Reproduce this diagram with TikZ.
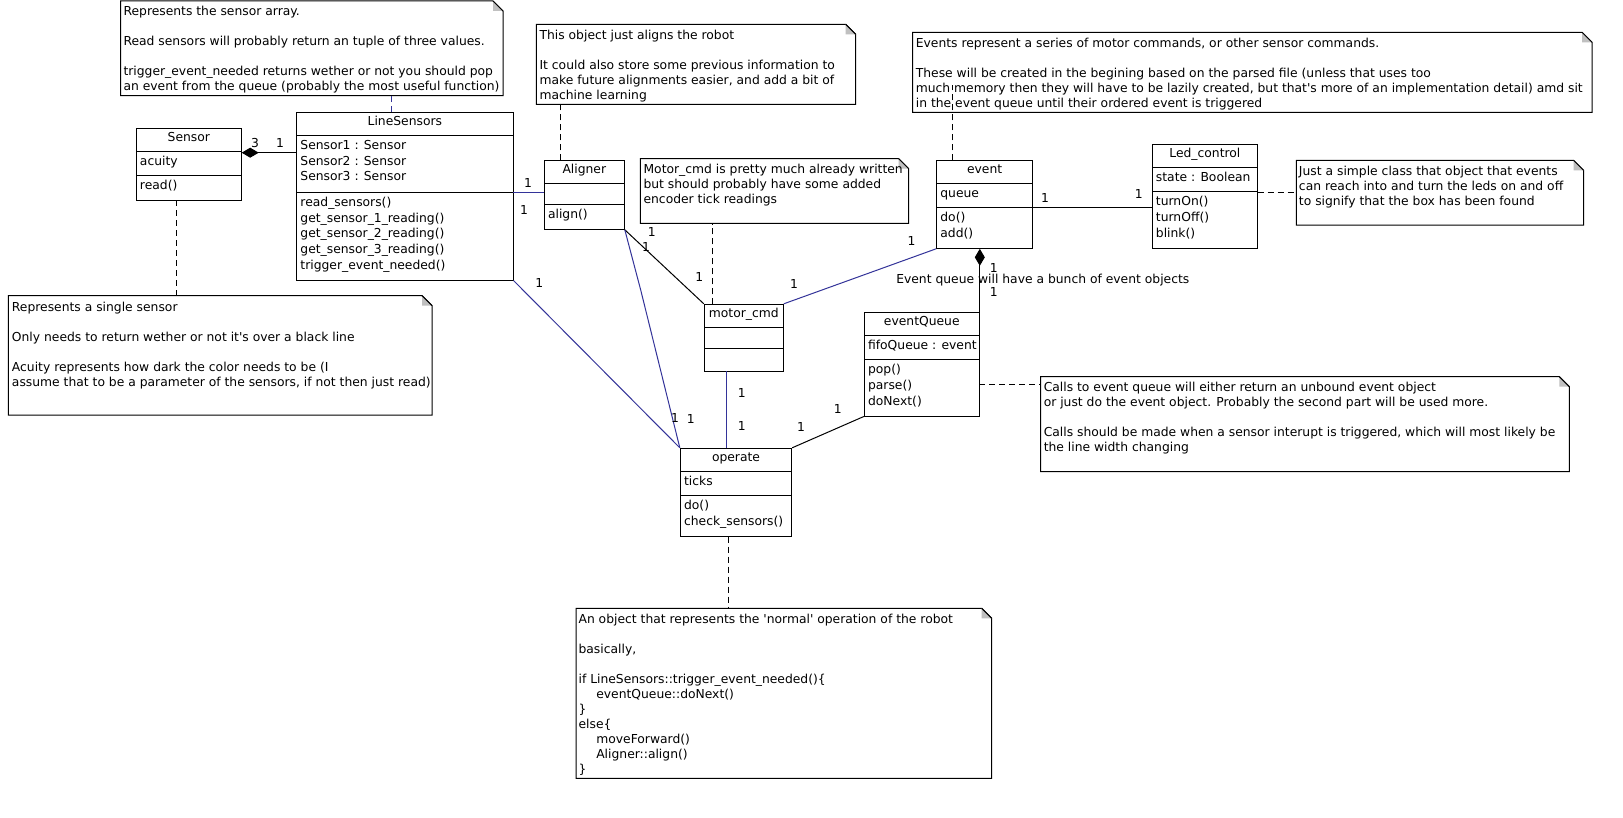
\documentclass[tikz,border=0pt]{standalone}
\usepackage{fontspec}
\newfontfamily\dv{DejaVu Sans}
\usetikzlibrary{fit,arrows.meta}
\newcommand\apos{\XeTeXglyph\the\XeTeXcharglyph"0027\relax}
\definecolor{assocblue}{RGB}{51,51,153}
\definecolor{foldgray}{RGB}{192,192,192}

\tikzset{
  ln/.style={line width=0.75pt},
  assoc/.style={ln, draw=assocblue},
  dep/.style={ln, dash pattern=on 4.5pt off 3pt},
  frame/.style={draw, line width=0.75pt, inner sep=0pt},
  clstxt/.style={anchor=north west, inner sep=0pt, align=left, font=\dv\fontsize{9.25pt}{11.85pt}\selectfont},
  notetxt/.style={anchor=north west, inner sep=0pt, align=left, font=\dv\fontsize{9.25pt}{11.25pt}\selectfont},
  ttl/.style={anchor=base, inner sep=0pt, font=\dv\fontsize{9.25pt}{11.25pt}\selectfont},
  mult/.style={inner sep=0pt, font=\dv\fontsize{9.25pt}{11.25pt}\selectfont},
  compo/.style={ln, {Diamond[length=12.75pt,width=7.5pt]}-},
}

% class box: name, x1, y1, x2, y2, first divider, second divider, title
\newcommand\umlclass[8]{%
  \coordinate (#1-nw) at (#2,#3);
  \coordinate (#1-se) at (#4,#5);
  \node[frame, fill=white, fit=(#1-nw)(#1-se)] (#1) {};
  \draw[ln] (#2,#6) -- (#4,#6);
  \draw[ln] (#2,#7) -- (#4,#7);
  \node[ttl] (#1-title) at ({(#2+#4)/2},{#3+13}) {#8};
}
% note with folded corner: name, x1, y1, x2, y2
\newcommand\umlnote[5]{%
  \coordinate (#1-nw) at (#2,#3);
  \coordinate (#1-se) at (#4,#5);
  \node[inner sep=0pt, fit=(#1-nw)(#1-se)] (#1) {};
  \filldraw[ln, fill=white] (#2,#3) -- ({#4-10},#3) -- (#4,{#3+10}) -- (#4,#5) -- (#2,#5) -- cycle;
  \fill[foldgray] ({#4-10},#3) -- ({#4-10},{#3+10}) -- (#4,{#3+10}) -- cycle;
  \draw[ln] ({#4-10},#3) -- (#4,{#3+10});
}
% text block: style, name, x, baseline of first line, lines
\newcommand\textat[5]{%
  \node[#1] (#2) at (#3,{#4-14}) {\rule{0pt}{10.5pt}#5};
}

\begin{document}
\begin{tikzpicture}[x=0.75pt, y=-0.75pt]
\useasboundingbox (0,0) rectangle (1623,817);
\fill[white] (0,0) rectangle (1623,817);

% ---------- notes ----------
\umlnote{lsnote}{120.7}{1}{503}{95.7}
\textat{notetxt}{lsnote-t}{123.3}{15.5}{Represents the sensor array.\\~\\Read sensors will probably return an tuple of three values.\\~\\trigger\_event\_needed returns wether or not you should pop\\an event from the queue (probably the most useful function)}

\umlnote{alnote}{536.3}{24.3}{855.7}{104.3}
\textat{notetxt}{alnote-t}{539.3}{39.2}{This object just aligns the robot\\~\\It could also store some previous information to\\make future alignments easier, and add a bit of\\machine learning}

\umlnote{mnote}{640.3}{158.7}{908.7}{223.3}
\textat{notetxt}{mnote-t}{643.3}{172.8}{Motor\_cmd is pretty much already written\\but should probably have some added\\encoder tick readings}

\umlnote{evnote}{912.5}{32.3}{1592}{112.3}
\textat{notetxt}{evnote-t}{915.6}{47.2}{Events represent a series of motor commands, or other sensor commands.\\~\\These will be created in the begining based on the parsed file (unless that uses too\\much memory then they will have to be lazily created, but that\apos s more of an implementation detail) amd sit\\in the event queue until their ordered event is triggered}

\umlnote{lednote}{1296.4}{160.3}{1583.5}{225}
\textat{notetxt}{lednote-t}{1298.7}{175.2}{Just a simple class that object that events\\can reach into and turn the leds on and off\\to signify that the box has been found}

\umlnote{snote}{8.3}{295.7}{432}{415}
\textat{notetxt}{snote-t}{11.7}{311.2}{Represents a single sensor\\~\\Only needs to return wether or not it\apos s over a black line\\~\\Acuity represents how dark the color needs to be (I\\assume that to be a parameter of the sensors, if not then just read)}

\umlnote{callsnote}{1040.7}{376.7}{1569.3}{471.5}
\textat{notetxt}{callsnote-t}{1043.5}{391}{Calls to event queue will either return an unbound event object\\or just do the event object. Probably the second part will be used more.\\~\\Calls should be made when a sensor interupt is triggered, which will most likely be\\the line width changing}

\umlnote{opnote}{576}{608.3}{991.7}{778.3}
\textat{notetxt}{opnote-t}{578.3}{623.5}{An object that represents the \apos normal\apos\ operation of the robot\\~\\basically,\\~\\if LineSensors::trigger\_event\_needed()\{\\\hspace*{13.3pt}eventQueue::doNext()\\\}\\else\{\\\hspace*{13.3pt}moveForward()\\\hspace*{13.3pt}Aligner::align()\\\}}

% ---------- classes ----------
\umlclass{sensor}{136}{128}{241.7}{200}{151}{175}{Sensor}
\textat{clstxt}{sensor-a}{139.7}{165}{acuity}
\textat{clstxt}{sensor-o}{139.7}{189}{read()}

\umlclass{ls}{296.7}{112}{513}{280}{135}{192}{LineSensors}
\textat{clstxt}{ls-a}{300.2}{149}{Sensor1 : Sensor\\Sensor2 : Sensor\\Sensor3 : Sensor}
\textat{clstxt}{ls-o}{300.2}{206}{read\_sensors()\\get\_sensor\_1\_reading()\\get\_sensor\_2\_reading()\\get\_sensor\_3\_reading()\\trigger\_event\_needed()}

\umlclass{al}{544.3}{160.3}{624.3}{229.3}{183.3}{204.3}{Aligner}
\textat{clstxt}{al-o}{547.8}{218.3}{align()}

\umlclass{mc}{704.3}{304.3}{783.3}{371}{327.3}{348.3}{motor\_cmd}

\umlclass{ev}{936.6}{160.3}{1032.6}{248.3}{183.3}{207.3}{event}
\textat{clstxt}{ev-a}{940.1}{197.3}{queue}
\textat{clstxt}{ev-o}{940.1}{221.3}{do()\\add()}

\umlclass{led}{1152.2}{144.3}{1257.6}{248.3}{167.3}{191.7}{Led\_control}
\textat{clstxt}{led-a}{1155.7}{181.3}{state : Boolean}
\textat{clstxt}{led-o}{1155.7}{205.7}{turnOn()\\turnOff()\\blink()}

\umlclass{eq}{864.3}{312.3}{979.3}{416}{335.3}{359.3}{eventQueue}
\textat{clstxt}{eq-a}{867.8}{349.3}{fifoQueue : event}
\textat{clstxt}{eq-o}{867.8}{373.3}{pop()\\parse()\\doNext()}

\umlclass{op}{680.3}{448.3}{791.7}{536.7}{471.3}{495.3}{operate}
\textat{clstxt}{op-a}{683.8}{485.3}{ticks}
\textat{clstxt}{op-o}{683.8}{509.3}{do()\\check\_sensors()}

% ---------- attachment points ----------
\coordinate (s-comp) at (241.7,152.7);
\coordinate (ls-al) at (513,192.3);
\coordinate (al-bend) at (640.7,290);
\coordinate (mc-op) at (726.7,371);
\coordinate (ev-led) at (1032.6,207.3);
\coordinate (led-n) at (1257.6,192.3);
\coordinate (eq-n) at (979.3,384.3);
\coordinate (op-n) at (728.3,536.7);
\coordinate (s-n) at (176.7,200);
\coordinate (ls-n) at (391.7,112);
\coordinate (al-n) at (560.3,160.3);
\coordinate (mc-n) at (712.7,304.3);
\coordinate (ev-n) at (952.2,160.3);
\coordinate (evnote-in) at (952.2,85);

% ---------- associations ----------
\draw[compo] (s-comp) -- (s-comp -| ls.west);
\draw[assoc] (ls-al) -- (ls-al -| al.west);
\draw[assoc] (ls.south east) -- (op.north west);
\draw[ln] (al.south east) -- (mc.north west);
\draw[assoc] (al.south east) -- (al-bend) -- (op.north west);
\draw[assoc] (mc-op) -- (mc-op |- op.north);
\draw[assoc] (mc.north east) -- (ev.south west);
\draw[ln] (op.north east) -- (eq.south west);
\draw[compo] (eq.north east |- ev.south) -- (eq.north east);
\draw[ln] (ev-led) -- (ev-led -| led.west);

% ---------- note links ----------
\draw[dep] (led-n) -- (led-n -| lednote.west);
\draw[dep] (eq-n) -- (eq-n -| callsnote.west);
\draw[dep] (op-n) -- (op-n |- opnote.north);
\draw[dep] (s-n) -- (s-n |- snote.north);
\draw[dep, draw=assocblue] (ls-n) -- (ls-n |- lsnote.south);
\draw[dep] (al-n) -- (al-n |- alnote.south);
\draw[dep] (mc-n) -- (mc-n |- mnote.south);
\draw[dep] (ev-n) -- (evnote-in);

% ---------- multiplicities ----------
\node[mult] (m1) at (255,143) {3};
\node[mult] (m2) at (280,143) {1};
\node[mult] (m3) at (528,183) {1};
\node[mult] (m4) at (524,210) {1};
\node[mult] (m5) at (539.3,282.7) {1};
\node[mult] (m6) at (651.7,231.7) {1};
\node[mult] (m7) at (646,246.7) {1};
\node[mult] (m8) at (699.3,276.7) {1};
\node[mult] (m9) at (675,417.7) {1};
\node[mult] (m10) at (690.7,419.3) {1};
\node[mult] (m11) at (741.7,392.7) {1};
\node[mult] (m12) at (741.7,426) {1};
\node[mult] (m13) at (801,426.7) {1};
\node[mult] (m14) at (837.7,409.3) {1};
\node[mult] (m15) at (794,284) {1};
\node[mult] (m16) at (911.5,240.7) {1};
\node[mult] (m17) at (1045,197.7) {1};
\node[mult] (m18) at (1138.8,193.7) {1};
\node[mult] (m19) at (993.7,268.3) {1};
\node[mult] (m20) at (993.7,291.7) {1};
\node[ttl, anchor=base west] (evq-label) at (896,283.8) {Event queue will have a bunch of event objects};
\end{tikzpicture}
\end{document}
